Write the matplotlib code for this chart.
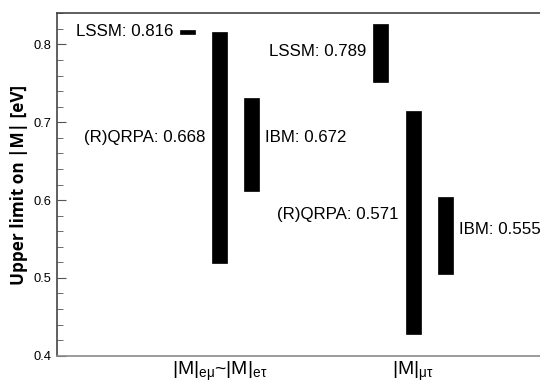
import matplotlib
matplotlib.use("Agg")
import matplotlib.pyplot as plt
from matplotlib.ticker import MultipleLocator

plt.rcParams['font.family'] = ['Liberation Sans', 'DejaVu Sans']
plt.rcParams['mathtext.fontset'] = 'custom'
plt.rcParams['mathtext.rm'] = 'Liberation Sans'
plt.rcParams['mathtext.it'] = 'Liberation Sans'

# data: upper-limit ranges for each model, per channel
categories = [r'$\mathrm{|M|_{e\mu}}$~$\mathrm{|M|_{e\tau}}$', r'$\mathrm{|M|_{\mu\tau}}$']
models = ['LSSM', '(R)QRPA', 'IBM']
lows = [[0.814, 0.519, 0.612], [0.752, 0.428, 0.505]]
highs = [[0.818, 0.816, 0.731], [0.826, 0.714, 0.604]]
centers = [[0.816, 0.668, 0.672], [0.789, 0.571, 0.555]]
label_y = [[0.816, 0.680, 0.680], [0.791, 0.581, 0.562]]

fig = plt.figure(figsize=(5.4, 3.85), dpi=100)
ax = fig.add_axes([0.1056, 0.0761, 0.8944, 0.8893])

offset = 0.167
width = 0.0775
for g in range(2):
    for m in range(3):
        x = g + 1 + (m - 1) * offset
        ax.bar(x, highs[g][m] - lows[g][m], bottom=lows[g][m], width=width,
               color='black', edgecolor='black', linewidth=0.5)
        txt = '%s: %.3f' % (models[m], centers[g][m])
        if m == 2:
            ax.text(x + width / 2 + 0.03, label_y[g][m], txt, ha='left',
                    va='center', fontsize=12.2)
        else:
            ax.text(x - width / 2 - 0.035, label_y[g][m], txt, ha='right',
                    va='center', fontsize=12.2)

ax.set_xlim(0.160, 2.656)
ax.set_ylim(0.4, 0.84)
ax.set_xticks([1, 2])
ax.set_xticklabels(categories, fontsize=14)
ax.tick_params(axis='x', length=0, pad=3)

ax.yaxis.set_major_locator(MultipleLocator(0.1))
ax.yaxis.set_minor_locator(MultipleLocator(0.02))
ax.tick_params(axis='y', which='major', direction='in', length=6.7,
               color='#555555', labelsize=9.3, pad=4)
ax.tick_params(axis='y', which='minor', direction='in', length=4.3,
               color='#555555')
ax.set_ylabel('Upper limit on |M| [eV]', fontsize=12.3, fontweight='bold',
              family='Open Sans', labelpad=4)

ax.spines['right'].set_visible(False)
ax.spines['top'].set_color('#444444')
ax.spines['left'].set_color('#444444')
ax.spines['bottom'].set_color('#8a8a8a')
for s in ax.spines.values():
    s.set_linewidth(1.2)

fig.savefig('out.png', dpi=100)
